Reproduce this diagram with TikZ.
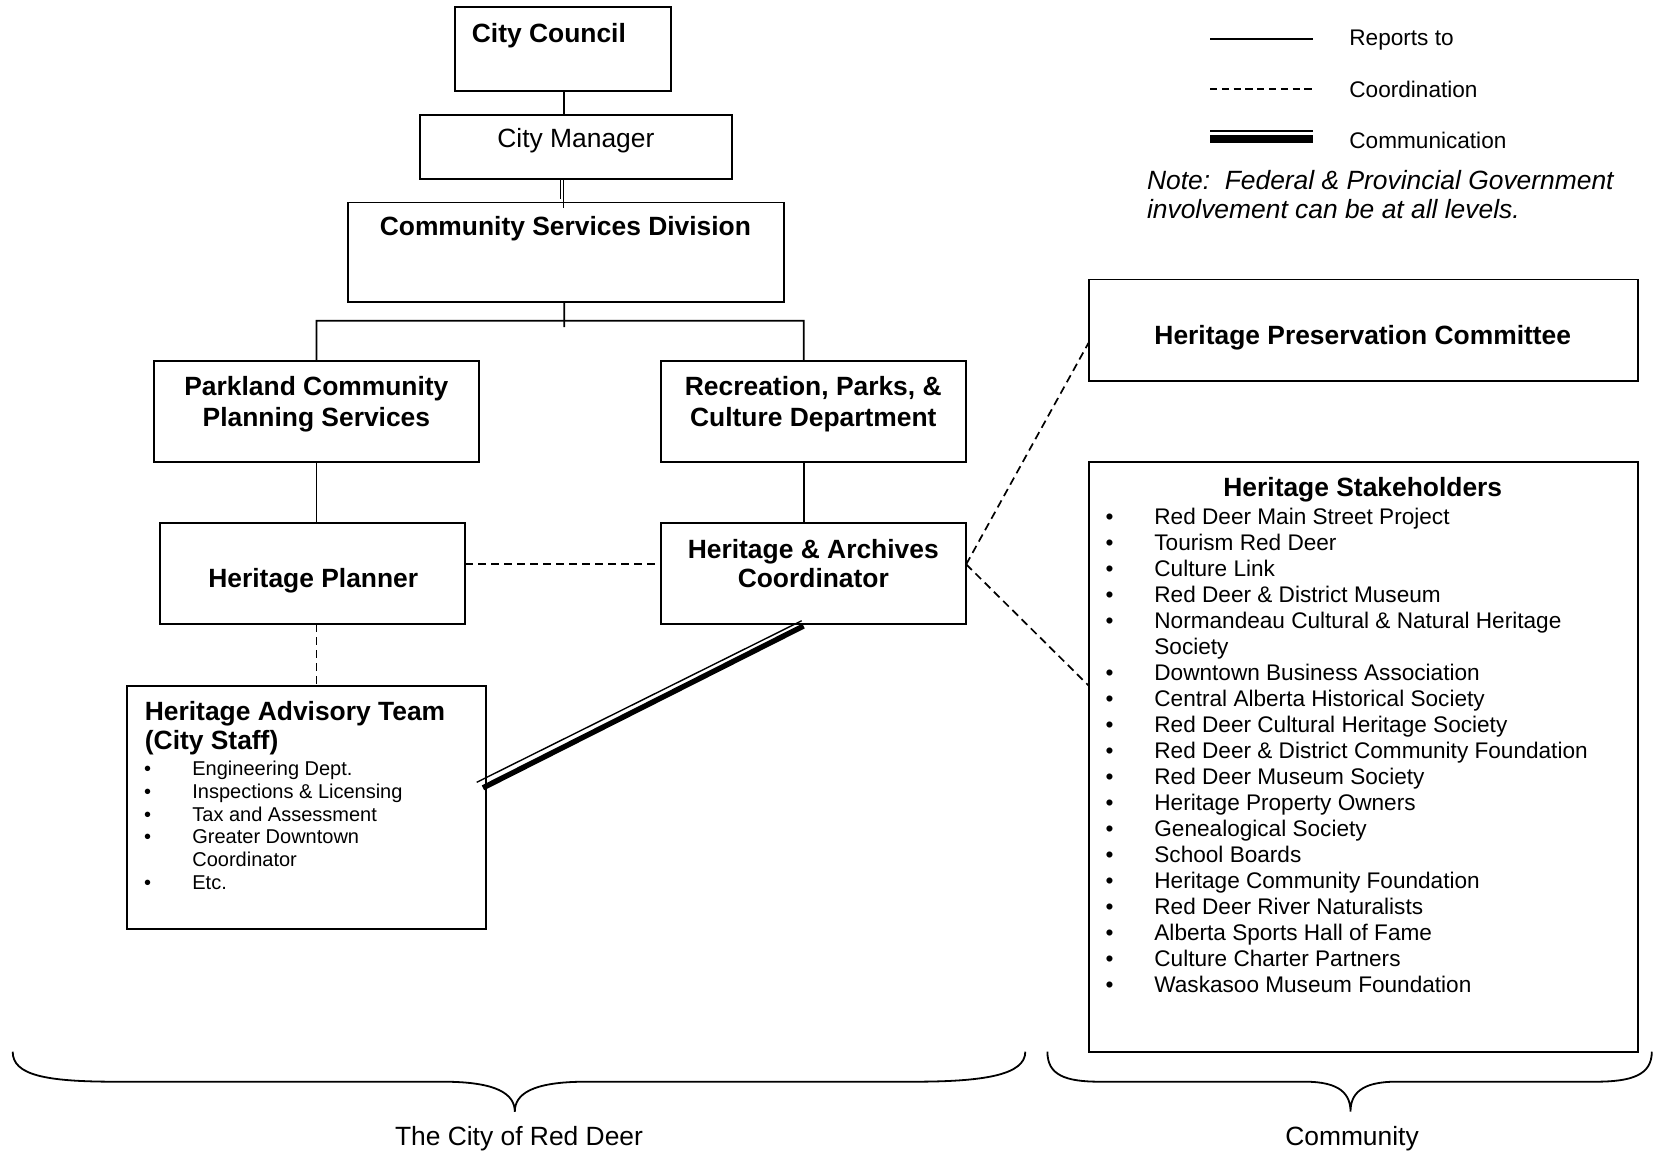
\documentclass[tikz,border=0pt]{standalone}
\usepackage{fontspec}
\setmainfont{Liberation Sans}
\newcommand\tfont{\fontsize{13.2}{14.5}\selectfont\bfseries}
\newcommand\rfont{\fontsize{13.2}{14.5}\selectfont}
\newcommand\ifont{\fontsize{13.2}{14.5}\selectfont\itshape}
\newcommand\lfont{\fontsize{11.3}{13}\selectfont}
\newcommand\sfont{\fontsize{10}{11.4}\selectfont}
\newcommand\mybox[5]{\node[box,minimum width=#4*0.5pt,minimum height=#5*0.5pt] (#1) at (#2,#3) {};}
\begin{document}
\begin{tikzpicture}[x=0.5pt,y=-0.5pt,
  box/.style={draw,line width=0.95pt,inner sep=0pt,outer sep=0pt},
  ttl/.style={font=\tfont,inner sep=0pt,anchor=base},
  lt/.style={font=\lfont,inner sep=0pt,anchor=base west},
  st/.style={font=\sfont,inner sep=0pt,anchor=base west},
  bul/.style={inner sep=0pt,anchor=base},
  rep/.style={line width=0.9pt},
  coordline/.style={line width=0.85pt,dash pattern=on 4pt off 2.5pt},
  brace/.style={line width=0.9pt}]
\useasboundingbox (0,0) rectangle (1654,1151);

% boxes
\mybox{cc}{562.75}{49.05}{216.3}{83.3}
\mybox{cm}{575.9}{147.15}{312.2}{64.3}
\mybox{csd}{565.85}{252.1}{435.7}{99.2}
\mybox{pk}{316.45}{411.35}{324.9}{101.3}
\mybox{rec}{813.8}{411.35}{304.8}{101.3}
\mybox{hp}{312.75}{573.8}{304.9}{101.2}
\mybox{hac}{813.8}{573.8}{304.8}{101.2}
\mybox{hat}{306.45}{807.45}{359.7}{243.7}
\mybox{hpc}{1363.3}{330.15}{549.4}{101.3}
\mybox{hs}{1363.3}{756.8}{549.4}{589.6}

% box texts
\node[ttl,anchor=base west] (cct) at (471.5,42) {City Council};
\node[ttl,font=\rfont] (cmt) at (575.9,147) {City Manager};
\node[ttl] (csdt) at (565.4,235) {Community Services Division};
\node[ttl] (pkt1) at (316.4,395.5) {Parkland Community};
\node[ttl] (pkt2) at (316.4,426) {Planning Services};
\node[ttl] (rect1) at (813.3,395.5) {Recreation, Parks, \&};
\node[ttl] (rect2) at (813.3,426) {Culture Department};
\node[ttl] (hpt) at (313.3,587.5) {Heritage Planner};
\node[ttl] (hact1) at (813.3,558) {Heritage \& Archives};
\node[ttl] (hact2) at (813.3,587.5) {Coordinator};
\node[ttl] (hpct) at (1362.8,344) {Heritage Preservation Committee};
\node[ttl] (hst) at (1362.8,496) {Heritage Stakeholders};
\node[ttl,anchor=base west] (hatt1) at (144.5,720) {Heritage Advisory Team};
\node[ttl,anchor=base west] (hatt2) at (144.5,749) {(City Staff)};

% HAT list
\foreach \t [count=\i from 0] in {Engineering Dept., Inspections \& Licensing, Tax and Assessment, Greater Downtown}{
  \node[bul,font=\sfont] (hatb\i) at (147.7,775.5+22.75*\i) {•};
  \node[st] (hatl\i) at (192,775.5+22.75*\i) {\t};
}
\node[st] (hatl4) at (192,775.5+22.75*4) {Coordinator};
\node[bul,font=\sfont] (hatb5) at (147.7,775.5+22.75*5) {•};
\node[st] (hatl5) at (192,775.5+22.75*5) {Etc.};

% HS list
\foreach \t [count=\i from 0] in {Red Deer Main Street Project, Tourism Red Deer, Culture Link, Red Deer \& District Museum, Normandeau Cultural \& Natural Heritage}{
  \node[bul,font=\lfont] (hsb\i) at (1109.6,524+26.02*\i) {•};
  \node[lt] (hsl\i) at (1154,524+26.02*\i) {\t};
}
\node[lt] (hsl5) at (1154,524+26.02*5) {Society};
\foreach \t [count=\i from 6] in {Downtown Business Association, Central Alberta Historical Society, Red Deer Cultural Heritage Society, Red Deer \& District Community Foundation, Red Deer Museum Society, Heritage Property Owners, Genealogical Society, School Boards, Heritage Community Foundation, Red Deer River Naturalists, Alberta Sports Hall of Fame, Culture Charter Partners, Waskasoo Museum Foundation}{
  \node[bul,font=\lfont] (hsb\i) at (1109.6,524+26.02*\i) {•};
  \node[lt] (hsl\i) at (1154,524+26.02*\i) {\t};
}

% reports-to connectors
\draw[rep] ([xshift=0.78pt]cc.south) -- ([xshift=0.78pt]cc.south |- cm.north);
\draw[line width=0.6pt] ([xshift=-7.6pt]cm.south) -- ([xshift=-7.6pt,yshift=1.7pt]cm.south |- csd.north);
\draw[line width=0.6pt] ([xshift=-6.1pt]cm.south) -- ([xshift=-6.1pt,yshift=-2.6pt]cm.south |- csd.north);
\coordinate (csdtail) at (564.3,327);
\coordinate (barL) at (316.4,320.7);
\coordinate (barR) at (803.8,320.7);
\draw[rep] ([xshift=-0.78pt]csd.south) -- (csdtail);
\draw[rep] (pk.north) -- (barL) -- (barR) -- ([xshift=-5pt]rec.north);
\draw[rep] (pk.south) -- (pk.south |- hp.north);
\draw[rep] ([xshift=-5pt]rec.south) -- ([xshift=-5pt]hac.north);

% coordination connectors
\draw[coordline] ([yshift=4.75pt]hp.east) -- ([yshift=4.75pt]hac.west);
\draw[coordline] ([xshift=1.8pt]hp.south) -- ([xshift=1.8pt]hp.south |- hat.north);
\draw[coordline] ([yshift=4.75pt]hac.east) -- ([yshift=-6.3pt]hpc.west);
\draw[coordline] ([yshift=4.75pt]hac.east) -- ([yshift=35.6pt]hs.west);

% communication connector
\coordinate (comA1) at (476.7,782.3);
\coordinate (comB1) at (801.7,620.7);
\coordinate (comA2) at (483,787.8);
\coordinate (comB2) at (803.5,626);
\draw[line width=0.7pt] (comA1) -- (comB1);
\draw[line width=2.7pt] (comA2) -- (comB2);

% legend
\coordinate (lg1a) at (1210,39); \coordinate (lg1b) at (1313,39);
\coordinate (lg2a) at (1210,89); \coordinate (lg2b) at (1313,89);
\coordinate (lg3a) at (1210,131); \coordinate (lg3b) at (1313,131);
\coordinate (lg4a) at (1210,139.2); \coordinate (lg4b) at (1313,139.2);
\draw[rep] (lg1a) -- (lg1b);
\draw[line width=0.85pt,dash pattern=on 3.6pt off 2.3pt] (lg2a) -- (lg2b);
\draw[line width=0.7pt] (lg3a) -- (lg3b);
\draw[line width=3.8pt] (lg4a) -- (lg4b);
\node[lt] (lgt1) at (1349,45) {Reports to};
\node[lt] (lgt2) at (1349,97) {Coordination};
\node[lt] (lgt3) at (1349,148) {Communication};
\node[ttl,font=\ifont,anchor=base west] (note1) at (1146.6,189.3) {Note:\ \ Federal \& Provincial Government};
\node[ttl,font=\ifont,anchor=base west] (note2) at (1146.6,218.3) {involvement can be at all levels.};

% braces
\draw[brace] (12.7,1051.7) .. controls (12.7,1075) and (45,1081.7) .. (116,1081.7) -- (443,1081.7)
  .. controls (497,1081.7) and (514.8,1094) .. (514.8,1111.7)
  .. controls (514.8,1094) and (532,1081.7) .. (586,1081.7) -- (913,1081.7)
  .. controls (984,1081.7) and (1025.3,1075) .. (1025.3,1051.7);
\draw[brace] (1047.4,1051.7) .. controls (1047.4,1075) and (1065,1081.7) .. (1100,1081.7) -- (1305,1081.7)
  .. controls (1340,1081.7) and (1350.5,1094) .. (1350.5,1111.7)
  .. controls (1350.5,1094) and (1361,1081.7) .. (1396,1081.7) -- (1595,1081.7)
  .. controls (1632,1081.7) and (1651.8,1075) .. (1651.8,1051.7);
\node[ttl,font=\rfont] (lcity) at (519,1145) {The City of Red Deer};
\node[ttl,font=\rfont] (lcom) at (1352,1145) {Community};
\end{tikzpicture}
\end{document}
